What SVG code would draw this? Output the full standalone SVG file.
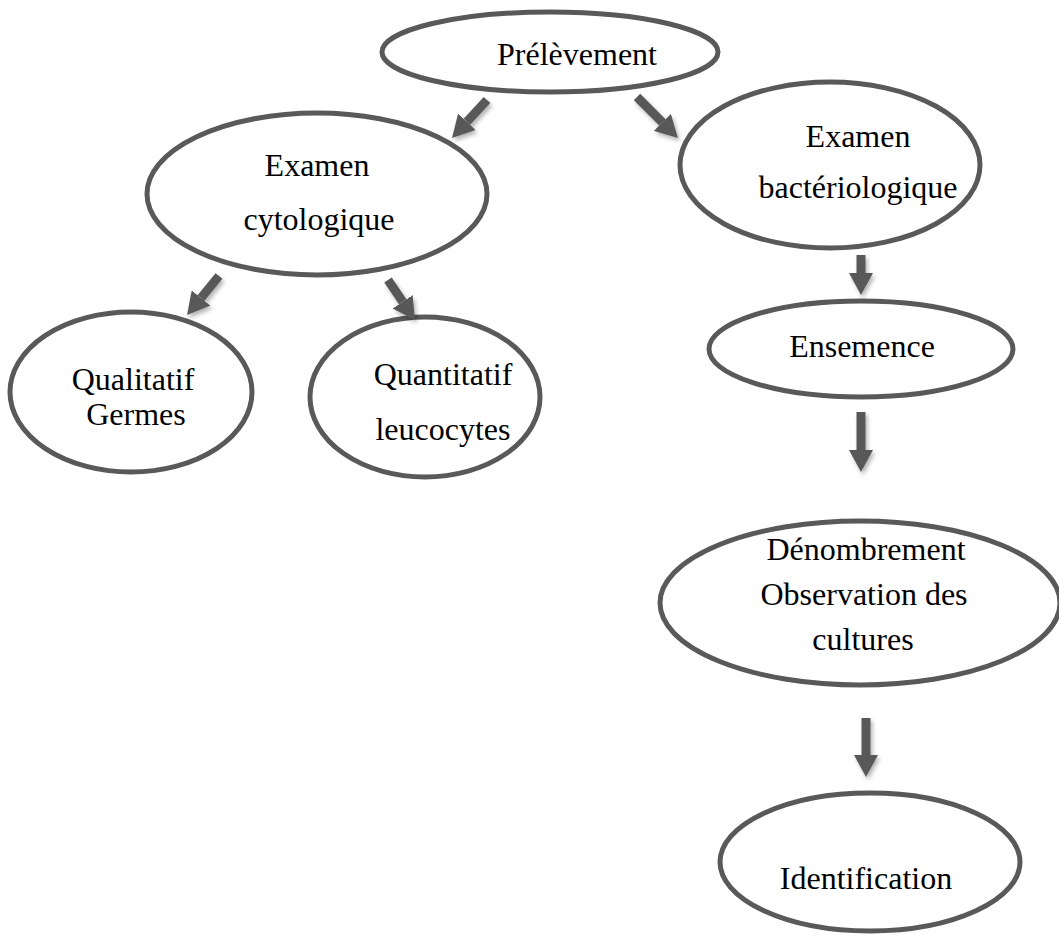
<svg xmlns="http://www.w3.org/2000/svg" width="1059" height="935" viewBox="0 0 1059 935">
<style>
.n ellipse{fill:#fff;stroke:#595959;stroke-width:5}
.n text{font-family:"Liberation Serif","Times New Roman",serif;font-size:32px;fill:#000;text-anchor:middle}
.c line{stroke:#595959;stroke-width:9;marker-end:url(#ah)}
</style>
<defs>
<marker id="ah" markerUnits="userSpaceOnUse" markerWidth="22" markerHeight="24" refX="0" refY="12" orient="auto">
<path d="M0,0 L22,12 L0,24 z" fill="#595959"/>
</marker>
<filter id="sh" x="-20%" y="-20%" width="160%" height="160%">
<feDropShadow dx="2" dy="3" stdDeviation="2" flood-color="#000" flood-opacity="0.3"/>
</filter>
</defs>
<rect width="1059" height="935" fill="#fff"/>
<g id="n1" class="n"><ellipse cx="550" cy="52" rx="168" ry="40"/><text x="577" y="65">Prélèvement</text></g>
<g id="n2" class="n"><ellipse cx="317" cy="194" rx="170" ry="81"/><text x="317" y="176">Examen</text><text x="319" y="230">cytologique</text></g>
<g id="n3" class="n"><ellipse cx="830" cy="165" rx="150" ry="83"/><text x="858" y="147">Examen</text><text x="858" y="198">bactériologique</text></g>
<g id="n4" class="n"><ellipse cx="131" cy="392" rx="121" ry="80"/><text x="133" y="390">Qualitatif</text><text x="136" y="425">Germes</text></g>
<g id="n5" class="n"><ellipse cx="425" cy="397" rx="115" ry="80"/><text x="443" y="385">Quantitatif</text><text x="443" y="440">leucocytes</text></g>
<g id="n6" class="n"><ellipse cx="861" cy="349" rx="152" ry="48"/><text x="862" y="357">Ensemence</text></g>
<g id="n7" class="n"><ellipse cx="860" cy="603" rx="200" ry="82"/><text x="866" y="560">Dénombrement</text><text x="864" y="605">Observation des</text><text x="863" y="650">cultures</text></g>
<g id="n8" class="n"><ellipse cx="870" cy="862" rx="150" ry="69"/><text x="866" y="889">Identification</text></g>
<g id="connectors" class="c" filter="url(#sh)">
<line x1="487" y1="100" x2="466.9" y2="121.8"/>
<line x1="637" y1="97" x2="662.4" y2="122.4"/>
<line x1="219" y1="276" x2="201" y2="298"/>
<line x1="388" y1="280" x2="402.7" y2="301.8"/>
<line x1="861" y1="255" x2="861" y2="273"/>
<line x1="861" y1="412" x2="861" y2="450"/>
<line x1="866" y1="718" x2="866" y2="755"/>
</g>
</svg>
